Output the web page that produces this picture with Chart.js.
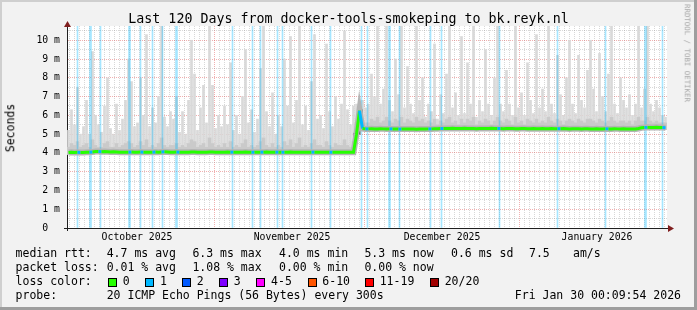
<!DOCTYPE html>
<html><head><meta charset="utf-8">
<script src="https://cdn.jsdelivr.net/npm/chart.js@4"></script>
<style>
html,body{margin:0;padding:0;background:#f2f2f2;}
#wrap{position:relative;width:697px;height:310px;overflow:hidden;background:#f2f2f2;}
#c{position:absolute;left:0;top:0;}
.t{position:absolute;font-family:"DejaVu Sans Mono",monospace;color:#000;white-space:pre;line-height:1;}
.lg{font-size:11.5px;}
.bx{position:absolute;width:7px;height:7px;border:1px solid #000;}
.sa{position:absolute;background:#cfcfcf;}
.sb{position:absolute;background:#9e9e9e;}
</style></head><body>
<div id="wrap">
<div class="sa" style="left:0;top:0;width:697px;height:2px"></div>
<div class="sa" style="left:0;top:0;width:2px;height:310px"></div>
<div class="sb" style="left:0;top:307px;width:697px;height:3px"></div>
<div class="sb" style="left:694px;top:0;width:3px;height:310px"></div>
<canvas id="c" width="697" height="310"></canvas>
<div class="t" id="title" style="left:0;width:697px;text-align:center;top:12.4px;font-size:13.3px">Last 120 Days from docker-tools-smokeping to bk.reyk.nl</div>
<div class="t lg" style="left:11px;top:128px;transform:translate(-50%,-50%) rotate(-90deg);transform-origin:center;">Seconds</div>
<div class="t" style="left:687px;top:53px;font-size:7.4px;color:#a8a8a8;transform:translate(-50%,-50%) rotate(90deg);">RRDTOOL / TOBI OETIKER</div>
<div id="legend"></div>
</div>
<script>
// ---------- data ----------
const rangeDays = 120;            // Last 120 days, end Fri Jan 30 00:09:54 2026
const colDays = 0.6;              // width of one consolidated column (days)
// upper edge of the light smoke (ms), one value per column
const smokeHigh = [
5.2,6.3,5.5,7.5,5.0,5.4,6.8,5.0,9.4,6.0,5.5,5.1,6.5,8.0,5.3,5.0,6.6,5.2,5.8,6.8,
9.0,7.8,5.4,5.6,8.0,6.0,10.3,5.4,6.4,5.6,7.0,10.76,5.9,5.4,6.2,5.8,7.0,5.1,6.2,5.0,
6.8,10.0,8.2,5.2,6.4,7.6,5.6,10.76,7.6,5.3,6.0,5.4,6.5,5.5,8.8,5.2,6.0,5.0,7.0,9.5,
5.6,6.3,5.1,5.8,8.5,10.76,6.2,5.4,7.2,5.0,6.0,5.4,9.0,6.5,10.2,5.6,6.8,10.76,5.5,6.5,
5.2,7.8,10.3,5.8,6.0,5.3,9.8,6.2,5.4,7.0,5.8,6.6,10.5,6.3,5.5,6.5,6.6,6.5,6.8,6.4,
6.6,8.2,7.0,10.76,6.6,7.4,10.76,6.8,6.2,9.0,7.1,10.76,6.4,8.6,6.6,6.1,10.76,6.8,8.0,5.9,
6.6,6.2,9.8,5.8,7.1,6.1,8.2,10.76,6.4,7.2,6.0,10.2,6.1,8.8,6.6,10.76,5.9,6.8,6.2,9.5,
6.6,6.0,8.0,10.76,6.6,6.2,8.4,6.6,6.0,10.76,6.4,7.2,6.0,8.8,6.8,6.1,10.3,6.4,7.4,6.2,
10.76,6.6,6.1,9.2,7.1,6.0,8.0,10.0,6.6,6.1,9.2,6.8,6.4,8.4,10.0,7.4,6.2,9.3,7.0,6.2,
8.2,10.76,6.6,6.1,8.0,6.8,6.4,7.1,6.0,6.6,10.76,6.4,7.4,10.76,6.6,6.2,6.8,6.4,6.0,5.9
];
// upper edge of the denser middle smoke (ms)
const smokeMid = [
4.3,4.5,4.4,4.6,4.3,4.4,4.5,4.3,4.7,4.4,4.3,4.3,4.5,4.6,4.3,4.3,4.5,4.3,4.4,4.5,
4.6,4.5,4.3,4.4,4.6,4.4,4.7,4.3,4.4,4.3,4.5,4.8,4.4,4.3,4.4,4.4,4.5,4.3,4.4,4.3,
4.5,4.7,4.6,4.3,4.4,4.5,4.3,4.8,4.5,4.3,4.4,4.3,4.5,4.3,4.6,4.3,4.4,4.3,4.5,4.7,
4.3,4.4,4.3,4.4,4.6,4.8,4.4,4.3,4.5,4.3,4.4,4.3,4.6,4.4,4.7,4.3,4.5,4.8,4.3,4.4,
4.3,4.5,4.7,4.4,4.4,4.3,4.6,4.4,4.3,4.5,4.4,4.4,4.7,4.4,4.3,4.6,5.6,5.8,5.7,5.6,
5.6,5.8,5.7,5.9,5.6,5.7,5.9,5.7,5.6,5.8,5.7,5.9,5.6,5.8,5.7,5.6,5.9,5.7,5.8,5.6,
5.7,5.6,5.8,5.5,5.7,5.6,5.8,5.9,5.6,5.7,5.5,5.8,5.6,5.8,5.7,5.9,5.5,5.7,5.6,5.8,
5.7,5.5,5.7,5.9,5.7,5.6,5.8,5.7,5.5,5.9,5.6,5.7,5.5,5.8,5.7,5.6,5.8,5.6,5.7,5.6,
5.9,5.7,5.6,5.8,5.7,5.5,5.7,5.8,5.7,5.6,5.8,5.7,5.6,5.8,5.8,5.7,5.6,5.8,5.7,5.6,
5.7,5.9,5.7,5.6,5.7,5.7,5.6,5.7,5.5,5.7,5.9,5.7,5.7,5.9,5.7,5.6,5.7,5.6,5.6,5.6
];
// median RTT (ms)
const median = [
4.02,4.03,4.02,4.03,4.02,4.02,4.03,4.03,4.05,4.07,4.07,4.06,4.07,4.06,4.05,4.06,4.05,4.04,4.04,4.03,
4.04,4.05,4.04,4.04,4.05,4.04,4.03,4.04,4.04,4.05,4.04,4.05,4.06,4.05,4.04,4.04,4.05,4.04,4.03,4.04,
4.04,4.05,4.05,4.04,4.03,4.04,4.04,4.05,4.05,4.04,4.04,4.03,4.04,4.05,4.04,4.04,4.03,4.04,4.04,4.05,
4.04,4.04,4.03,4.04,4.04,4.04,4.05,4.04,4.03,4.04,4.04,4.03,4.04,4.04,4.05,4.04,4.03,4.04,4.04,4.04,
4.03,4.04,4.04,4.03,4.04,4.03,4.04,4.04,4.03,4.03,4.04,4.03,4.03,4.04,4.03,4.03,5.00,6.25,5.30,5.28,
5.28,5.29,5.28,5.28,5.29,5.28,5.27,5.28,5.28,5.28,5.27,5.27,5.28,5.28,5.27,5.27,5.26,5.27,5.27,5.27,
5.28,5.28,5.29,5.29,5.30,5.30,5.30,5.30,5.31,5.30,5.30,5.30,5.31,5.30,5.30,5.30,5.29,5.30,5.30,5.30,
5.30,5.31,5.30,5.30,5.30,5.29,5.30,5.30,5.30,5.29,5.29,5.30,5.30,5.29,5.29,5.30,5.29,5.29,5.30,5.29,
5.29,5.30,5.29,5.29,5.29,5.30,5.29,5.28,5.29,5.29,5.29,5.28,5.29,5.29,5.28,5.28,5.29,5.28,5.28,5.29,
5.28,5.28,5.29,5.28,5.27,5.28,5.27,5.28,5.28,5.27,5.30,5.34,5.35,5.36,5.35,5.35,5.36,5.35,5.35,5.34
];
// dark smoke strokes during the jump on Nov 28 (day, low ms, high ms)
const stepDays = [57.5, 58.5, 58.9];
const stepLow  = [4.00, 5.00, 5.30];
const stepHigh = [5.05, 6.30, 6.30];
// loss events (day since Oct 2), one consolidated ping lost
const lossThin = [2.1, 6.7, 14.7, 17.1, 19.1, 33.1, 37.1, 38.7, 42.1, 43.1, 48.9, 52.7, 58.9, 60.1, 66.5, 72.7, 74.9, 86.5, 98.1, 107.7, 119.1];
const lossWide = [4.7, 12.5, 21.9, 64.5, 115.7];
// axis / labels
const monthStarts = [30, 60, 91];
const monthLabels = {14:'October 2025', 45:'November 2025', 75:'December 2025', 106:'January 2026'};
const yMax = 10.76;
const lossLegend = [['0','#26ff00'],['1','#00b8ff'],['2','#0059ff'],['3','#7e00ff'],['4-5','#ff00ff'],['6-10','#ff5500'],['11-19','#ff0000'],['20/20','#a10000']];

// ---------- legend text ----------
const L = document.getElementById('legend');
function txt(s, x, cy, extra){ const d=document.createElement('div'); d.className='t lg'; d.textContent=s; d.style.left=x+'px'; d.style.top=(cy-5.75)+'px'; if(extra) Object.assign(d.style, extra); L.appendChild(d); return d; }
const rows = [254, 268, 282, 296];
const cols = [106.7, 192.4, 279, 364.4, 451];
txt('median rtt:', 15.6, rows[0]);
['4.7 ms avg','6.3 ms max','4.0 ms min','5.3 ms now','0.6 ms sd'].forEach((s,i)=>txt(s, cols[i], rows[0]));
txt('7.5', 529, rows[0]); txt('am/s', 573, rows[0]);
txt('packet loss:', 15.6, rows[1]);
['0.01 % avg','1.08 % max','0.00 % min','0.00 % now'].forEach((s,i)=>txt(s, cols[i], rows[1]));
txt('loss color:', 15.6, rows[2]);
const boxX = [108, 145.3, 182, 219, 256.4, 307.6, 365, 430];
lossLegend.forEach(([s,c],i)=>{
  const b=document.createElement('div'); b.className='bx'; b.style.left=boxX[i]+'px'; b.style.top=(rows[2]-4.5)+'px'; b.style.background=c; L.appendChild(b);
  txt(s, boxX[i]+14.7, rows[2]);
});
txt('probe:', 15.6, rows[3]);
txt('20 ICMP Echo Pings (56 Bytes) every 300s', 106.7, rows[3]);
txt('Fri Jan 30 00:09:54 2026', 0, rows[3], {left:'auto', right:(697-681)+'px'});

// ---------- chart ----------
const colX = smokeHigh.map((_,i)=> (i+0.5)*colDays);
const lossAll = lossThin.concat(lossWide);
const isInt = v => Math.abs(v-Math.round(v))<1e-6;

const plotBg = { id:'plotBg', beforeDraw(ch){ const a=ch.chartArea, c=ch.ctx; c.save(); c.fillStyle='#ffffff'; c.fillRect(a.left,a.top,a.right-a.left,a.bottom-a.top); c.restore(); } };
const arrows = { id:'arrows', afterDraw(ch){ const a=ch.chartArea, c=ch.ctx; c.save();
  c.fillStyle='#1f1f1f';
  c.fillRect(a.left-3, a.bottom, 3, 1); c.fillRect(a.right, a.bottom, 2, 1); c.fillRect(a.left, a.bottom, 1, 3);
  c.fillStyle='#801f1f';
  c.beginPath(); c.moveTo(a.left+0.5, a.top-5); c.lineTo(a.left-3, a.top+1); c.lineTo(a.left+4, a.top+1); c.closePath(); c.fill();
  c.beginPath(); c.moveTo(a.right+7, a.bottom+0.5); c.lineTo(a.right+1, a.bottom-3); c.lineTo(a.right+1, a.bottom+4); c.closePath(); c.fill();
  c.restore(); } };

new Chart(document.getElementById('c'), {
  type:'bar',
  data:{ datasets:[
    { type:'line', label:'median', order:0,
      data: median.map((v,i)=>({x:colX[i], y:v})),
      borderWidth:3, pointRadius:0, borderColor:'#26ff00', tension:0,
      segment:{ borderColor: ctx => { const a=ctx.p0.parsed.x, b=ctx.p1.parsed.x; return lossAll.some(d=>d>=a && d<b) ? '#00b8ff' : '#26ff00'; } } },
    { type:'line', label:'smoke core', order:1,
      data: median.map((v,i)=>({x:colX[i], y:v})),
      borderWidth:6, pointRadius:0, borderColor:'#b4b4b4', tension:0 },
    { label:'jump', order:2, grouped:false, barThickness:1,
      data: stepDays.map((d,i)=>({x:d, y:[stepLow[i], stepHigh[i]]})), backgroundColor:'#111111' },
    { label:'loss1', order:3, grouped:false, barThickness:1,
      data: lossThin.map(d=>({x:d, y:[0,yMax]})), backgroundColor:'rgba(0,184,255,0.35)' },
    { label:'loss2', order:3, grouped:false, barThickness:2,
      data: lossWide.map(d=>({x:d, y:[0,yMax]})), backgroundColor:'rgba(0,184,255,0.35)' },
    { label:'smoke mid', order:4, grouped:false, barThickness:3,
      data: smokeMid.map((v,i)=>({x:colX[i], y:[median[i]-0.1, v]})), backgroundColor:'#cacaca' },
    { label:'smoke', order:5, grouped:false, barThickness:2,
      data: smokeHigh.map((v,i)=>({x:colX[i], y:[median[i]-0.1, v]})), backgroundColor:'#d9d9d9' }
  ]},
  options:{
    responsive:false, animation:false, devicePixelRatio:1,
    layout:{ padding:{ left:0, top:26, right:30, bottom:0 } },
    plugins:{ legend:{display:false}, tooltip:{enabled:false}, title:{display:false} },
    scales:{
      x:{ type:'linear', min:0, max:rangeDays, offset:false, z:1,
        afterFit: s => { s.height = 82; },
        afterBuildTicks: s => { const t=[]; for(let d=1; d<rangeDays; d++) t.push({value:d}); s.ticks=t; },
        grid:{ drawTicks:false, lineWidth:1, color: c => monthStarts.includes(c.tick && c.tick.value) ? 'rgba(222,79,79,0.45)' : 'rgba(143,143,143,0.35)' },
        border:{ display:true, color:'#1f1f1f', width:1, dash:[1,1] },
        ticks:{ autoSkip:false, maxRotation:0, padding:4, color:'#000', font:{family:'DejaVu Sans Mono', size:9.8},
          callback: v => monthLabels[v] || '' } },
      y:{ type:'linear', min:0, max:yMax, z:1,
        afterFit: s => { s.width = 67; },
        afterBuildTicks: s => { const t=[]; for(let v=0; v<=10.5+1e-9; v+=0.5) t.push({value:Math.round(v*10)/10}); s.ticks=t; },
        grid:{ drawTicks:false, lineWidth:1, color: c => (c.tick && isInt(c.tick.value)) ? 'rgba(222,79,79,0.45)' : 'rgba(143,143,143,0.35)' },
        border:{ display:true, color:'#1f1f1f', width:1, dash:[1,1] },
        ticks:{ autoSkip:false, padding:7, color:'#000', font:{family:'DejaVu Sans Mono', size:9.8},
          callback: v => isInt(v) ? (Math.round(v)===0 ? '0  ' : Math.round(v)+' m') : '' } }
    }
  },
  plugins:[plotBg, arrows]
});
</script>
</body></html>
